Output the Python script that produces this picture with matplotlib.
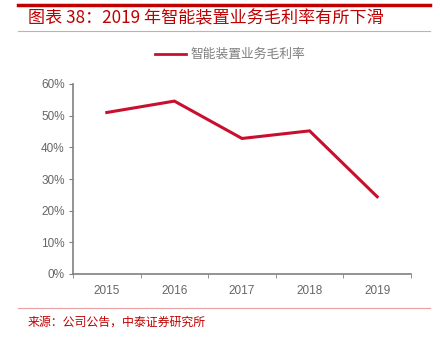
import matplotlib
matplotlib.use("Agg")
import matplotlib.pyplot as plt
from matplotlib.lines import Line2D
from matplotlib.ticker import FixedLocator, PercentFormatter

plt.rcParams["font.family"] = ["Liberation Sans", "Noto Sans CJK SC", "DejaVu Sans"]

years = ["2015", "2016", "2017", "2018", "2019"]
margin = [0.510, 0.546, 0.428, 0.452, 0.244]

title = "图表 38：2019 年智能装置业务毛利率有所下滑"
series_name = "智能装置业务毛利率"
source = "来源：公司公告，中泰证券研究所"

red = "#C8102E"
grey_axis = "#808080"
grey_text = "#666666"

fig = plt.figure(figsize=(4.4, 3.47), dpi=100)
ax = fig.add_axes([73 / 440, 1 - 274 / 347, (411 - 73) / 440, (274 - 84) / 347])

x = list(range(len(years)))
ax.plot(x, margin, color=red, lw=2.2, solid_joinstyle="miter")

ax.set_xlim(-0.5, len(years) - 0.5)
ax.set_ylim(0, 0.6)
ax.set_xticks(x)
ax.set_xticklabels(years)
ax.xaxis.set_minor_locator(FixedLocator([i - 0.5 for i in range(len(years) + 1)]))
ax.tick_params(axis="x", which="major", length=0, pad=8)
ax.tick_params(axis="x", which="minor", length=3, color=grey_axis, direction="out")
ax.set_yticks([0, 0.1, 0.2, 0.3, 0.4, 0.5, 0.6])
ax.yaxis.set_major_formatter(PercentFormatter(1.0, decimals=0))
ax.tick_params(axis="y", length=3, color=grey_axis, direction="out", pad=3)
ax.tick_params(labelsize=8.5, labelcolor=grey_text)

for s in ["top", "right"]:
    ax.spines[s].set_visible(False)
for s in ["left", "bottom"]:
    ax.spines[s].set_color(grey_axis)
    ax.spines[s].set_linewidth(1.2)

# header / footer decoration
fig.add_artist(Line2D([18 / 440, 430 / 440], [1 - 5 / 347] * 2, color="#C00000", lw=2.5))
fig.add_artist(Line2D([18 / 440, 430 / 440], [1 - 31 / 347] * 2, color="#E8A0A0", lw=0.8))
fig.add_artist(Line2D([18 / 440, 430 / 440], [1 - 308 / 347] * 2, color="#E8A0A0", lw=0.8))

fig.text(28 / 440, 1 - 18 / 347, title, color="#C00000", fontsize=12.3,
         style="italic", va="center", ha="left",
         family=["Noto Sans CJK SC", "DejaVu Sans"])
fig.text(28 / 440, 1 - 322 / 347, source, color="#C00000", fontsize=8.6,
         va="center", ha="left", family=["Noto Sans CJK SC", "DejaVu Sans"])

# legend
fig.add_artist(Line2D([155 / 440, 186 / 440], [1 - 54 / 347] * 2, color=red, lw=2.0))
fig.text(190 / 440, 1 - 54 / 347, series_name, color="#7F7F7F", fontsize=9.2,
         va="center", ha="left", family=["Noto Sans CJK SC", "DejaVu Sans"])

fig.savefig("out.png", dpi=100)
